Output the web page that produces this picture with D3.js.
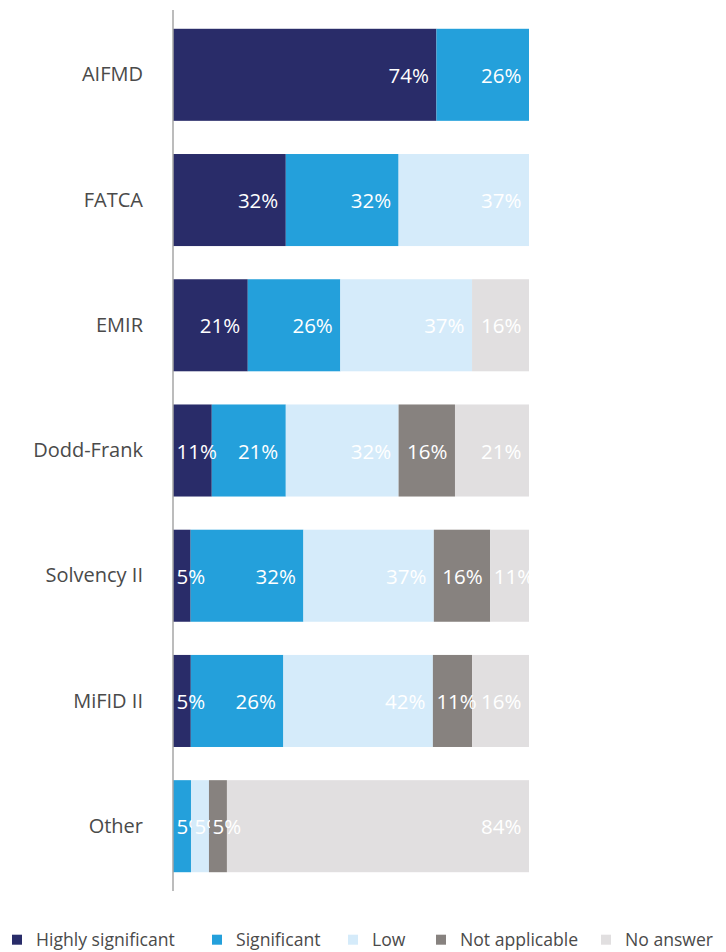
<!DOCTYPE html>
<html>
<head>
<meta charset="utf-8">
<script src="https://cdn.jsdelivr.net/npm/d3@7"></script>
<style>
  html, body { margin: 0; padding: 0; background: #fff; }
  svg { display: block; font-family: "Open Sans", "Noto Sans", sans-serif; }
</style>
</head>
<body>
<svg id="chart" width="726" height="952"></svg>
<script>
// Regulations and the share of answers (%) in each impact level
const categories = ["AIFMD", "FATCA", "EMIR", "Dodd-Frank", "Solvency II", "MiFID II", "Other"];
const seriesNames = ["Highly significant", "Significant", "Low", "Not applicable", "No answer"];
const highlySignificant = [74, 32, 21, 11, 5, 5, 0];
const significant       = [26, 32, 26, 21, 32, 26, 5];
const low               = [0, 37, 37, 32, 37, 42, 5];
const notApplicable     = [0, 0, 0, 16, 16, 11, 5];
const noAnswer          = [0, 0, 16, 21, 11, 16, 84];
const seriesColors = ["#292c69", "#24a0db", "#d5ebfa", "#87827f", "#e1dfe0"];

const seriesValues = [highlySignificant, significant, low, notApplicable, noAnswer];
const rows = categories.map((c, i) => {
  const r = { category: c };
  seriesNames.forEach((s, k) => { r[s] = seriesValues[k][i]; });
  return r;
});

const svg = d3.select("#chart");
const defs = svg.append("defs");
const plotLeft = 173, plotRight = 529, plotTop = 10, plotBottom = 891;

// Each bar is shown as a 100% stack
const stacked = d3.stack().keys(seriesNames).offset(d3.stackOffsetExpand)(rows);

const x = d3.scaleLinear().domain([0, 1]).range([plotLeft, plotRight]);
const y = d3.scaleBand().domain(categories).range([plotTop, plotBottom])
  .paddingInner(0.265).paddingOuter(0.15);
const color = d3.scaleOrdinal().domain(seriesNames).range(seriesColors);

// Segments
const layers = svg.append("g").selectAll("g").data(stacked).join("g")
  .attr("fill", d => color(d.key));
layers.selectAll("rect").data(d => d).join("rect")
  .attr("x", d => x(d[0]))
  .attr("y", d => y(d.data.category))
  .attr("width", d => x(d[1]) - x(d[0]))
  .attr("height", y.bandwidth());

// Value labels, anchored near each segment's end; a label is cut off
// where the next label in the same bar begins, and at the plot's right edge.
const labelG = svg.append("g");
let clipId = 0;
categories.forEach((cat, i) => {
  const items = [];
  stacked.forEach(layer => {
    const seg = layer[i];
    const v = seg.data[layer.key];
    if (!v) return;
    const t = labelG.append("text")
      .attr("fill", "#fff")
      .attr("font-size", 20.5)
      .attr("y", y(cat) + y.bandwidth() / 2 + 8)
      .text(v + "%");
    const w = t.node().getComputedTextLength();
    const lx = Math.max(x(seg[0]) + 3.5, x(seg[1]) - 7.5 - w);
    t.attr("x", lx);
    items.push({ t, lx, x0: x(seg[0]) });
  });
  items.forEach((it, k) => {
    const right = k < items.length - 1 ? items[k + 1].lx - 2.5 : plotRight;
    const id = "lbl-clip-" + (clipId++);
    defs.append("clipPath").attr("id", id)
      .append("rect").attr("x", it.x0).attr("y", y(cat))
      .attr("width", Math.max(0, right - it.x0)).attr("height", y.bandwidth());
    it.t.attr("clip-path", `url(#${id})`);
  });
});

// Category axis line
svg.append("line")
  .attr("x1", plotLeft).attr("x2", plotLeft)
  .attr("y1", plotTop).attr("y2", plotBottom)
  .attr("stroke", "#a6a6a6").attr("stroke-width", 1.5);

// Category labels
const yAxis = d3.axisLeft(y).tickSize(0).tickPadding(30);
const ag = svg.append("g").attr("transform", `translate(${plotLeft},0)`).call(yAxis);
ag.select(".domain").remove();
ag.selectAll("text")
  .attr("font-family", "\"Open Sans\", \"Noto Sans\", sans-serif")
  .attr("font-size", 20)
  .attr("fill", "#4a4a4a")
  .attr("dy", "0.33em");

// Legend
const legendX = [12, 212, 348, 436, 601];
const legend = svg.append("g").selectAll("g").data(seriesNames).join("g")
  .attr("transform", (d, i) => `translate(${legendX[i]},934.7)`);
legend.append("rect").attr("width", 10).attr("height", 10).attr("fill", d => color(d));
legend.append("text")
  .attr("x", 24).attr("y", 10.8)
  .attr("font-size", 17.6).attr("fill", "#4a4a4a")
  .text(d => d);
</script>
</body>
</html>
